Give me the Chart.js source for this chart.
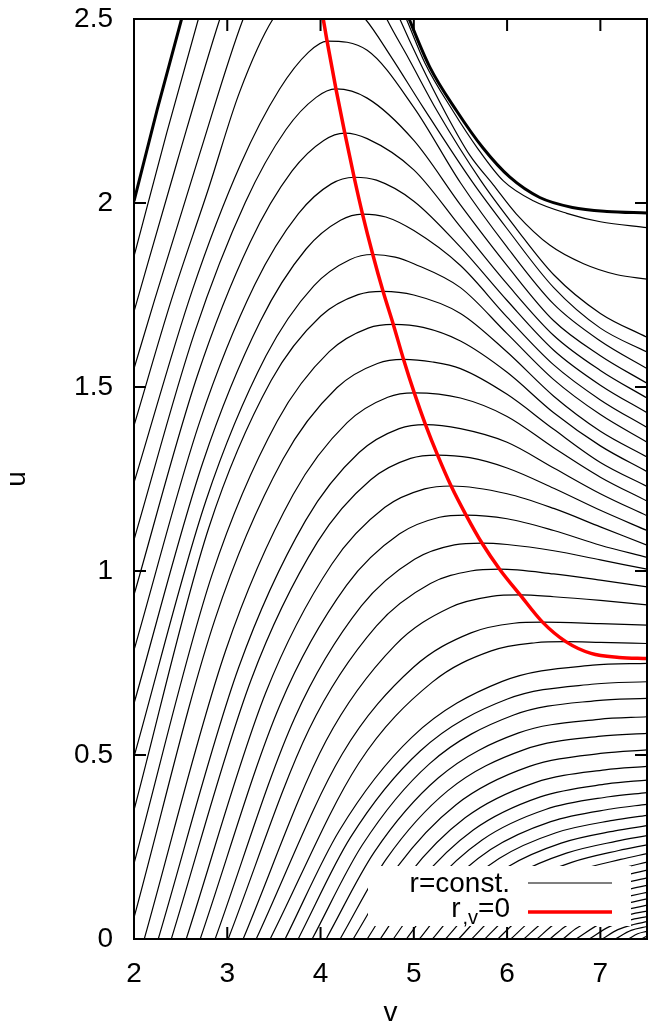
<!DOCTYPE html>
<html>
<head>
<meta charset="utf-8">
<script src="https://cdn.jsdelivr.net/npm/chart.js@4/dist/chart.umd.min.js"></script>
<style>
html,body{margin:0;padding:0;background:#fff;}
#wrap{width:667px;height:1033px;position:relative;}
</style>
</head>
<body>
<div id="wrap"><canvas id="c" width="667" height="1033"></canvas></div>
<script>
// ---------- data (v, u) ----------
const xTicks = [2, 3, 4, 5, 6, 7];
const yTicks = [0, 0.5, 1, 1.5, 2, 2.5];
const legendLabels = ['r=const.', 'r', ',v', '=0'];

// thick boundary curves
const thickLeft = [[2.0,2.005],[2.25,2.255],[2.51,2.5],[2.53,2.52]];
const thickRight = [[4.93,2.513],[4.95,2.5],[5.17,2.37],[5.46,2.25],[5.74,2.15],[6.03,2.07],[6.35,2.015],[6.70,1.988],[7.07,1.977],[7.5,1.973]];

// r_v = 0 curve
const rvZeroV = [4.00,4.025,4.07,4.165,4.26,4.36,4.45,4.56,4.67,4.78,4.89,5.005,5.125,5.255,5.40,5.56,5.73,5.92,6.14,6.38,6.63,6.90,7.20,7.50];
const rvZeroU = [2.535,2.505,2.44,2.31,2.19,2.07,1.97,1.86,1.76,1.67,1.575,1.484,1.398,1.315,1.231,1.152,1.076,1.005,0.935,0.861,0.808,0.776,0.765,0.762];

// contours leaving through the top edge
const topCurves = [
 [[2.0,1.855],[2.35,2.19],[2.69,2.5],[2.9,2.68],[3.72,3.15],[4.8,2.57],[4.92,2.5],[5.12,2.38],[5.42,2.25],[5.68,2.15],[5.96,2.06],[6.28,2.006],[6.64,1.972],[7.0,1.949],[7.5,1.933]],
 [[2.0,1.705],[2.46,2.11],[2.92,2.5],[3.1,2.63],[3.8,2.95],[4.75,2.56],[4.85,2.5],[5.05,2.39],[5.35,2.24],[5.6,2.13],[5.85,2.05],[6.1,1.97],[6.46,1.885],[6.82,1.835],[7.18,1.805],[7.5,1.793]],
 [[2.0,1.55],[2.22,1.736],[2.7,2.13],[3.17,2.5],[3.35,2.6],[3.87,2.76],[4.6,2.56],[4.71,2.5],[4.95,2.39],[5.25,2.25],[5.72,2.06],[6.1,1.93],[6.5,1.805],[7.0,1.70],[7.5,1.635]],
 [[2.0,1.395],[2.4,1.736],[2.8,2.04],[3.13,2.30],[3.49,2.5],[3.96,2.62],[4.48,2.5],[4.75,2.40],[5.1,2.26],[5.62,2.06],[6.0,1.93],[6.5,1.77],[7.0,1.66],[7.5,1.595]]
];

// contours with a maximum on the r_v = 0 curve
const peakCurves = [
 [[2.0,1.24],[2.624,1.762],[3.144,2.106],[3.56,2.309],[3.872,2.41],[4.07,2.44],[4.5,2.415],[5.0,2.26],[5.5,2.055],[6.0,1.88],[6.5,1.725],[7.0,1.625],[7.5,1.55]],
 [[2.0,1.085],[2.651,1.649],[3.194,2.002],[3.628,2.199],[3.953,2.287],[4.165,2.31],[4.5,2.285],[5.0,2.17],[5.5,1.995],[6.0,1.83],[6.5,1.68],[7.0,1.585],[7.5,1.51]],
 [[2.0,0.935],[2.678,1.53],[3.243,1.892],[3.695,2.087],[4.034,2.17],[4.26,2.19],[4.5,2.175],[5.0,2.09],[5.5,1.935],[6.0,1.78],[6.5,1.64],[7.0,1.545],[7.5,1.47]],
 [[2.0,0.785],[2.705,1.406],[3.293,1.777],[3.763,1.971],[4.115,2.052],[4.36,2.07],[4.6,2.062],[5.0,2.005],[5.5,1.88],[6.0,1.735],[6.5,1.60],[7.0,1.505],[7.5,1.43]],
 [[2.0,0.64],[2.738,1.295],[3.353,1.678],[3.845,1.875],[4.214,1.953],[4.45,1.97],[4.7,1.962],[5.0,1.925],[5.5,1.83],[6.0,1.69],[6.5,1.56],[7.0,1.465],[7.5,1.39]],
 [[2.0,0.495],[2.771,1.191],[3.414,1.584],[3.928,1.775],[4.313,1.846],[4.56,1.86],[4.8,1.853],[5.0,1.835],[5.5,1.77],[6.0,1.645],[6.5,1.52],[7.0,1.425],[7.5,1.35]],
 [[2.0,0.35],[2.801,1.117],[3.469,1.517],[4.003,1.693],[4.403,1.751],[4.67,1.76],[5.0,1.75],[5.5,1.70],[6.0,1.595],[6.5,1.475],[7.0,1.38],[7.5,1.31]],
 [[2.0,0.205],[2.837,0.99],[3.535,1.407],[4.093,1.596],[4.511,1.66],[4.78,1.67],[5.1,1.662],[5.5,1.625],[6.0,1.54],[6.5,1.43],[7.0,1.34],[7.5,1.27]],
 [[2.0,0.058],[2.87,0.87],[3.595,1.303],[4.175,1.498],[4.61,1.564],[4.89,1.575],[5.2,1.568],[5.5,1.55],[6.0,1.48],[6.5,1.385],[7.0,1.295],[7.5,1.23]],
 [[2.11,0],[2.98,0.782],[3.705,1.207],[4.285,1.403],[4.72,1.472],[5.005,1.484],[5.5,1.47],[6.0,1.42],[6.5,1.335],[7.0,1.255],[7.5,1.19]],
 [[2.26,0],[3.121,0.737],[3.839,1.137],[4.413,1.322],[4.843,1.387],[5.125,1.398],[5.5,1.387],[6.0,1.35],[6.5,1.28],[7.0,1.21],[7.5,1.15]],
 [[2.40,0],[3.255,0.704],[3.968,1.079],[4.538,1.248],[4.965,1.306],[5.255,1.315],[5.6,1.308],[6.0,1.28],[6.5,1.225],[7.0,1.165],[7.5,1.11]],
 [[2.56,0],[3.412,0.669],[4.122,1.019],[4.69,1.173],[5.116,1.223],[5.40,1.231],[6.0,1.21],[6.5,1.17],[7.0,1.12],[7.5,1.07]],
 [[2.71,0],[3.565,0.636],[4.278,0.961],[4.848,1.101],[5.275,1.146],[5.56,1.152],[6.0,1.142],[6.5,1.11],[7.0,1.07],[7.5,1.037]],
 [[2.87,0],[3.725,0.602],[4.438,0.905],[5.008,1.032],[5.435,1.071],[5.73,1.076],[6.0,1.072],[6.5,1.055],[7.0,1.03],[7.5,1.005]],
 [[3.01,0],[3.877,0.57],[4.60,0.851],[5.178,0.966],[5.611,1.0],[5.92,1.005],[6.5,0.992],[7.0,0.975],[7.5,0.957]],
 [[3.17,0],[4.058,0.538],[4.798,0.798],[5.39,0.901],[5.834,0.931],[6.14,0.935],[6.5,0.93],[7.0,0.92],[7.5,0.908]],
 [[3.31,0],[4.231,0.502],[4.999,0.739],[5.613,0.832],[6.073,0.858],[6.38,0.861],[7.0,0.857],[7.5,0.853]],
 [[3.46,0],[4.408,0.477],[5.198,0.698],[5.83,0.783],[6.304,0.805],[6.63,0.808],[7.0,0.806],[7.5,0.803]]
];

// contours below the r_v = 0 asymptote (bottom edge -> right edge)
const lowCurves = [
 [[3.62,0],[4.202,0.295],[4.978,0.548],[5.948,0.700],[6.918,0.744],[7.5,0.749]],
 [[3.76,0],[4.321,0.276],[5.069,0.511],[6.004,0.652],[6.939,0.693],[7.5,0.699]],
 [[3.91,0],[4.449,0.256],[5.167,0.476],[6.064,0.608],[6.962,0.648],[7.5,0.654]],
 [[4.06,0],[4.576,0.236],[5.264,0.438],[6.124,0.560],[6.984,0.597],[7.5,0.604]],
 [[4.21,0],[4.704,0.217],[5.362,0.4025],[6.184,0.5147],[7.007,0.5512],[7.5,0.559]],
 [[4.35,0],[4.823,0.196],[5.453,0.365],[6.24,0.469],[7.028,0.505],[7.5,0.514]],
 [[4.50,0],[4.95,0.1766],[5.55,0.3293],[6.30,0.425],[7.05,0.4597],[7.5,0.469]],
 [[4.64,0],[5.069,0.158],[5.641,0.2966],[6.356,0.3861],[7.071,0.4214],[7.5,0.432]],
 [[4.78,0],[5.188,0.1431],[5.732,0.2692],[6.412,0.352],[7.092,0.3865],[7.5,0.398]],
 [[4.92,0],[5.307,0.129],[5.823,0.243],[6.468,0.3191],[7.113,0.3533],[7.5,0.366]],
 [[5.06,0],[5.426,0.1158],[5.914,0.2187],[6.524,0.2888],[7.134,0.3224],[7.5,0.336]],
 [[5.20,0],[5.545,0.1034],[6.005,0.1959],[6.58,0.2606],[7.155,0.2937],[7.5,0.308]],
 [[5.34,0],[5.664,0.0918],[6.096,0.1743],[6.636,0.2333],[7.176,0.2659],[7.5,0.281]],
 [[5.48,0],[5.783,0.0808],[6.187,0.1542],[6.692,0.2083],[7.197,0.2404],[7.5,0.256]],
 [[5.62,0],[5.902,0.0722],[6.278,0.1371],[6.748,0.1855],[7.218,0.2162],[7.5,0.232]],
 [[5.76,0],[6.021,0.064],[6.369,0.1209],[6.804,0.164],[7.239,0.1933],[7.5,0.209]],
 [[5.90,0],[6.14,0.0573],[6.46,0.1082],[6.86,0.1468],[7.26,0.1729],[7.5,0.187]],
 [[6.04,0],[6.259,0.0506],[6.551,0.0958],[6.916,0.13],[7.281,0.1534],[7.5,0.166]],
 [[6.18,0],[6.378,0.0444],[6.642,0.0841],[6.972,0.1142],[7.302,0.1348],[7.5,0.146]],
 [[6.32,0],[6.497,0.0385],[6.733,0.073],[7.028,0.0992],[7.323,0.1171],[7.5,0.127]],
 [[6.46,0],[6.616,0.0329],[6.824,0.0625],[7.084,0.0849],[7.344,0.1004],[7.5,0.109]],
 [[6.60,0],[6.735,0.0276],[6.915,0.0525],[7.14,0.0715],[7.365,0.0846],[7.5,0.092]],
 [[6.74,0],[7.006,0.0425],[7.272,0.064],[7.5,0.076]],
 [[6.88,0],[7.097,0.0337],[7.314,0.0513],[7.5,0.061]],
 [[7.02,0],[7.188,0.0255],[7.356,0.0394],[7.5,0.047]],
 [[7.16,0],[7.33,0.0234],[7.5,0.034]],
 [[7.30,0],[7.40,0.0143],[7.5,0.021]],
 [[7.44,0],[7.5,0.008]]
];

// ---------- chart ----------
const FONT = '"Liberation Sans", Arial, Helvetica, sans-serif';
const toXY = pts => pts.map(([x, y]) => ({x, y}));

function thin(pts) {
  return {data: toXY(pts), borderColor: '#000', borderWidth: 1.2, pointRadius: 0,
          cubicInterpolationMode: 'monotone', fill: false, order: 3};
}

const datasets = [];
datasets.push({label: 'r_v=0', data: rvZeroV.map((v, i) => ({x: v, y: rvZeroU[i]})),
  borderColor: '#ff0000', borderWidth: 3.5, pointRadius: 0, cubicInterpolationMode: 'monotone', fill: false, order: 0});
datasets.push({data: toXY(thickLeft), borderColor: '#000', borderWidth: 3, pointRadius: 0,
  cubicInterpolationMode: 'monotone', fill: false, order: 1});
datasets.push({data: toXY(thickRight), borderColor: '#000', borderWidth: 3, pointRadius: 0,
  cubicInterpolationMode: 'monotone', fill: false, order: 1});
[...topCurves, ...peakCurves, ...lowCurves].forEach(c => datasets.push(thin(c)));

const legendBox = {
  id: 'legendBox',
  afterDatasetsDraw(chart) {
    const {ctx, chartArea: a} = chart;
    const boxR = a.right - 16, boxB = a.bottom - 13, boxW = 263, boxH = 60;
    const textR = boxR - 121;
    const lineL = boxR - 103, lineR = boxR - 19;
    ctx.save();
    ctx.fillStyle = '#fff';
    ctx.fillRect(boxR - boxW, boxB - boxH, boxW, boxH);
    ctx.fillStyle = '#000';
    ctx.textBaseline = 'alphabetic';
    ctx.textAlign = 'right';
    ctx.font = '28px ' + FONT;
    ctx.fillText(legendLabels[0], textR, boxB - 34);
    const base2 = boxB - 9;
    ctx.fillText(legendLabels[3], textR, base2);
    const w3 = ctx.measureText(legendLabels[3]).width;
    ctx.font = '20px ' + FONT;
    ctx.fillText(legendLabels[2], textR - w3, base2 + 7);
    const w2 = ctx.measureText(legendLabels[2]).width;
    ctx.font = '28px ' + FONT;
    ctx.fillText(legendLabels[1], textR - w3 - w2 - 2, base2);
    ctx.lineCap = 'butt';
    ctx.strokeStyle = '#000'; ctx.lineWidth = 1.2;
    ctx.beginPath(); ctx.moveTo(lineL, boxB - 43); ctx.lineTo(lineR, boxB - 43); ctx.stroke();
    ctx.strokeStyle = '#ff0000'; ctx.lineWidth = 3.5;
    ctx.beginPath(); ctx.moveTo(lineL, boxB - 14); ctx.lineTo(lineR, boxB - 14); ctx.stroke();
    ctx.restore();
  }
};

const frame = {
  id: 'frame',
  afterDraw(chart) {
    const {ctx, chartArea: a, scales: {x, y}} = chart;
    const L = 12;
    ctx.save();
    ctx.strokeStyle = '#000';
    ctx.lineWidth = 2;
    ctx.beginPath();
    xTicks.forEach(v => {
      const p = x.getPixelForValue(v);
      ctx.moveTo(p, a.bottom); ctx.lineTo(p, a.bottom - L);
      ctx.moveTo(p, a.top); ctx.lineTo(p, a.top + L);
    });
    yTicks.forEach(u => {
      const p = y.getPixelForValue(u);
      ctx.moveTo(a.left, p); ctx.lineTo(a.left + L, p);
      ctx.moveTo(a.right, p); ctx.lineTo(a.right - L, p);
    });
    ctx.stroke();
    ctx.strokeRect(a.left, a.top, a.right - a.left, a.bottom - a.top);
    ctx.restore();
  }
};

new Chart(document.getElementById('c'), {
  type: 'line',
  data: {datasets},
  options: {
    responsive: false,
    devicePixelRatio: 1,
    animation: false,
    events: [],
    layout: {autoPadding: false, padding: {top: 19, right: 20, left: 0, bottom: 0}},
    plugins: {legend: {display: false}, tooltip: {enabled: false}},
    scales: {
      x: {
        type: 'linear', position: 'bottom', min: 2, max: 7.5,
        grid: {display: false}, border: {display: false},
        afterBuildTicks: s => { s.ticks = xTicks.map(v => ({value: v})); },
        afterFit: s => { s.height = 94; s.paddingLeft = 0; s.paddingRight = 0; },
        ticks: {color: '#000', font: {family: FONT, size: 28}, padding: 10, maxRotation: 0, autoSkip: false,
                callback: v => String(v)},
        title: {display: true, text: 'v', color: '#000', font: {family: FONT, size: 28}, padding: {top: 0, bottom: 3}}
      },
      y: {
        type: 'linear', position: 'left', min: 0, max: 2.5,
        grid: {display: false}, border: {display: false},
        afterBuildTicks: s => { s.ticks = yTicks.map(v => ({value: v})); },
        afterFit: s => { s.width = 134; s.paddingTop = 0; s.paddingBottom = 0; },
        ticks: {color: '#000', font: {family: FONT, size: 28}, padding: 13, autoSkip: false,
                callback: v => String(v)},
        title: {display: true, text: 'u', color: '#000', font: {family: FONT, size: 28}, padding: {top: 0, bottom: 0}}
      }
    }
  },
  plugins: [legendBox, frame]
});
</script>
</body>
</html>
